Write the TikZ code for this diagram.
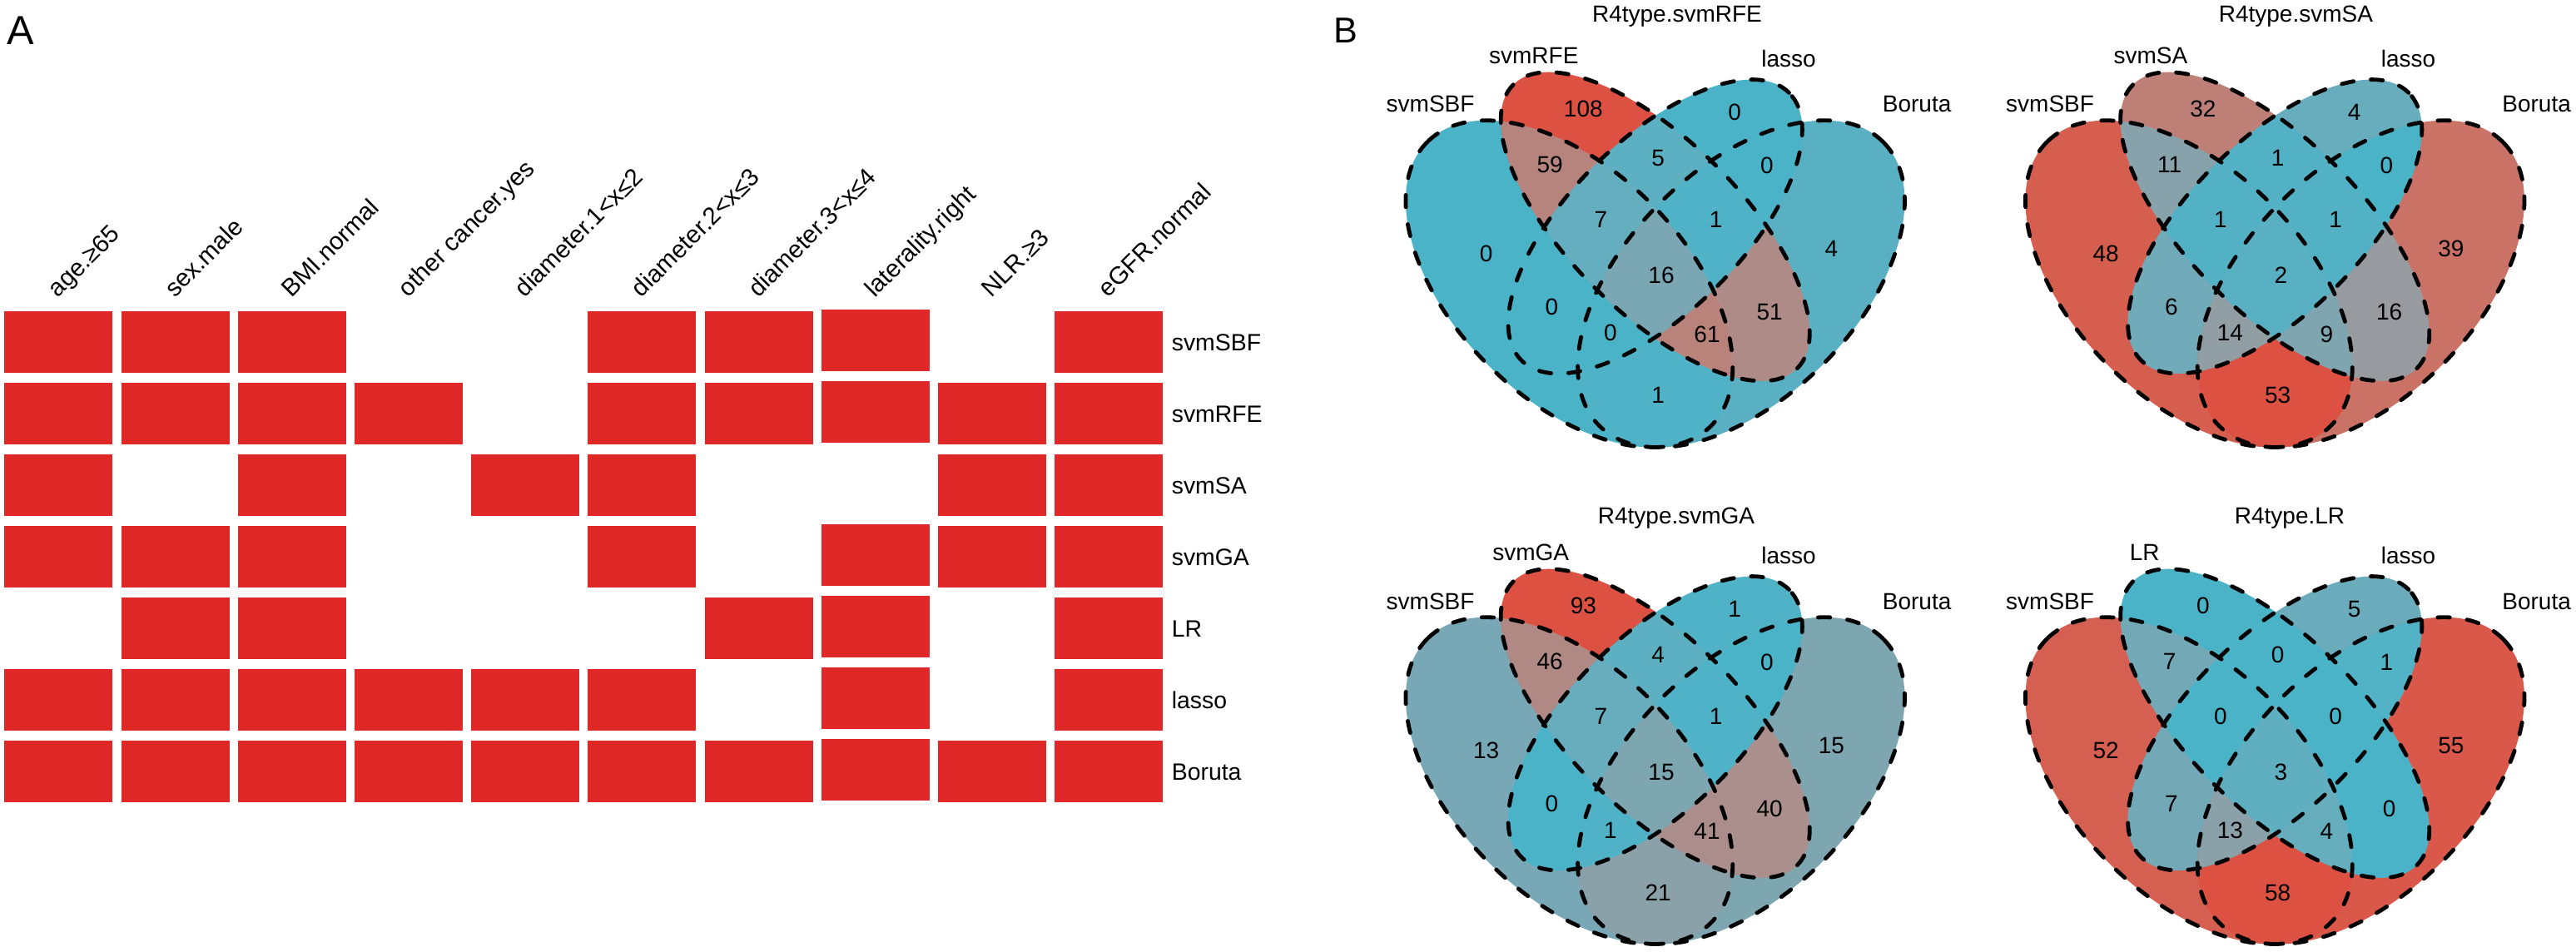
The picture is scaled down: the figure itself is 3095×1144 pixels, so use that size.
\documentclass[tikz,border=0pt]{standalone}
\usepackage{fontspec}
\setmainfont{Liberation Sans}
\definecolor{cellred}{RGB}{224,40,40}
% colour of a Venn region: Lab interpolation between teal (t=0) and red (t=1)
\newcommand\labmix[2]{%
  \pgfmathsetmacro\qL{67.95-14.45*(#2)}%
  \pgfmathsetmacro\qA{-23.6+77.0*(#2)}%
  \pgfmathsetmacro\qB{-19.6+57.3*(#2)}%
  \pgfmathsetmacro\qfy{(\qL+16)/116}%
  \pgfmathsetmacro\qfx{\qfy+(\qA)/500}%
  \pgfmathsetmacro\qfz{\qfy-(\qB)/200}%
  \pgfmathsetmacro\qX{0.95047*\qfx*\qfx*\qfx}%
  \pgfmathsetmacro\qY{\qfy*\qfy*\qfy}%
  \pgfmathsetmacro\qZ{1.08883*\qfz*\qfz*\qfz}%
  \pgfmathsetmacro\qr{max(0.0001,3.2406*\qX-1.5372*\qY-0.4986*\qZ)}%
  \pgfmathsetmacro\qg{max(0.0001,-0.9689*\qX+1.8758*\qY+0.0415*\qZ)}%
  \pgfmathsetmacro\qb{max(0.0001,0.0557*\qX-0.2040*\qY+1.0570*\qZ)}%
  \pgfmathsetmacro\qsr{min(1,max(0,1.055*exp(ln(\qr)/2.4)-0.055))}%
  \pgfmathsetmacro\qsg{min(1,max(0,1.055*exp(ln(\qg)/2.4)-0.055))}%
  \pgfmathsetmacro\qsb{min(1,max(0,1.055*exp(ln(\qb)/2.4)-0.055))}%
  \definecolor{#1}{rgb}{\qsr,\qsg,\qsb}%
}
% ellipses of the four-set Venn diagram (units of the Venn scope)
\def\cA{\clip[rotate around={135:(0.35,0.47)}] (0.35,0.47) ellipse (60.2875pt and 34.45pt);}
\def\cB{\clip[rotate around={135:(0.5,0.57)}] (0.5,0.57) ellipse (60.2875pt and 25.8375pt);}
\def\cC{\clip[rotate around={45:(0.5,0.57)}] (0.5,0.57) ellipse (56.8425pt and 25.8375pt);}
\def\cD{\clip[rotate around={45:(0.65,0.47)}] (0.65,0.47) ellipse (60.2875pt and 34.45pt);}
\newcommand\vreg[3]{\labmix{regc}{(#2)/(#3)}\begin{scope}#1\fill[regc] (-0.5,-0.5) rectangle (1.5,1.5);\end{scope}}
\newcommand\setvals[9]{\def\nA{#1}\def\nB{#2}\def\nC{#3}\def\nD{#4}\def\nAB{#5}\def\nAC{#6}\def\nAD{#7}\def\nBC{#8}\def\nBD{#9}}
\newcommand\setvalsb[6]{\def\nCD{#1}\def\nABC{#2}\def\nABD{#3}\def\nACD{#4}\def\nBCD{#5}\def\nABCD{#6}}
% #1 id, #2 dx, #3 dy, #4 max, #5 second set name, #6 x of second set label
\newcommand\drawvenn[6]{%
  \begin{scope}[shift={(#2,#3)}]
    \begin{scope}[shift={(1644.2,665)}, x=172.25pt, y=172.25pt]
      \vreg{\cA}{\nA}{#4}\vreg{\cB}{\nB}{#4}\vreg{\cC}{\nC}{#4}\vreg{\cD}{\nD}{#4}
      \vreg{\cA\cB}{\nAB}{#4}\vreg{\cA\cC}{\nAC}{#4}\vreg{\cA\cD}{\nAD}{#4}
      \vreg{\cB\cC}{\nBC}{#4}\vreg{\cB\cD}{\nBD}{#4}\vreg{\cC\cD}{\nCD}{#4}
      \vreg{\cA\cB\cC}{\nABC}{#4}\vreg{\cA\cB\cD}{\nABD}{#4}
      \vreg{\cA\cC\cD}{\nACD}{#4}\vreg{\cB\cC\cD}{\nBCD}{#4}
      \vreg{\cA\cB\cC\cD}{\nABCD}{#4}
      \draw[vline, rotate around={135:(0.35,0.47)}] (0.35,0.47) ellipse (60.2875pt and 34.45pt);
      \draw[vline, rotate around={135:(0.5,0.57)}] (0.5,0.57) ellipse (60.2875pt and 25.8375pt);
      \draw[vline, rotate around={45:(0.5,0.57)}] (0.5,0.57) ellipse (56.8425pt and 25.8375pt);
      \draw[vline, rotate around={45:(0.65,0.47)}] (0.65,0.47) ellipse (60.2875pt and 34.45pt);
    \end{scope}
    \node[vtxt] (#1-A) at (1785.6,304.3) {\nA};
    \node[vtxt] (#1-B) at (1902.3,130.4) {\nB};
    \node[vtxt] (#1-C) at (2084.1,135) {\nC};
    \node[vtxt] (#1-D) at (2200.3,298.2) {\nD};
    \node[vtxt] (#1-AB) at (1862.1,197.1) {\nAB};
    \node[vtxt] (#1-BC) at (1992.2,189.3) {\nBC};
    \node[vtxt] (#1-CD) at (2122.8,198.2) {\nCD};
    \node[vtxt] (#1-ABC) at (1923.3,263.2) {\nABC};
    \node[vtxt] (#1-BCD) at (2061.6,263.2) {\nBCD};
    \node[vtxt] (#1-ABCD) at (1996,330.4) {\nABCD};
    \node[vtxt] (#1-AC) at (1864.5,368.9) {\nAC};
    \node[vtxt] (#1-BD) at (2126.1,374.3) {\nBD};
    \node[vtxt] (#1-ACD) at (1934.8,400) {\nACD};
    \node[vtxt] (#1-ABD) at (2051,401.8) {\nABD};
    \node[vtxt] (#1-AD) at (1992.2,475) {\nAD};
    \node[vtxt] (#1-s1) at (1718.6,125) {svmSBF};
    \node[vtxt] (#1-s2) at (#6,66.1) {#5};
    \node[vtxt] (#1-s3) at (2149.1,70.4) {lasso};
    \node[vtxt] (#1-s4) at (2303.1,125) {Boruta};
  \end{scope}}
\tikzset{
  vline/.style={black, line width=1.2pt, dash pattern=on 3.6pt off 5.2pt, line cap=round},
  vtxt/.style={inner sep=0pt, font=\fontsize{7}{8}\selectfont, text height=5pt, text depth=0pt, anchor=center},
  rowlab/.style={inner sep=0pt, font=\fontsize{7.1}{8}\selectfont, text height=5.1pt, text depth=0pt, anchor=west},
  collab/.style={inner sep=0pt, font=\fontsize{7.4}{8}\selectfont, anchor=base west, rotate=45},
  panlab/.style={inner sep=0pt, anchor=base west}
}
\begin{document}
\begin{tikzpicture}[x=0.25pt, y=-0.25pt]
\useasboundingbox (0,0) rectangle (3095,1144);
% ---------------- panel A ----------------
\node[panlab, font=\fontsize{12.2}{14}\selectfont] (labA) at (7.7,53.3) {A};
\foreach \r/\pat in {0/{1,1,1,0,0,1,1,1,0,1},1/{1,1,1,1,0,1,1,1,1,1},2/{1,0,1,0,1,1,0,0,1,1},3/{1,1,1,0,0,1,0,1,1,1},4/{0,1,1,0,0,0,1,1,0,1},5/{1,1,1,1,1,1,0,1,0,1},6/{1,1,1,1,1,1,1,1,1,1}}{
  \foreach \v [count=\c from 0] in \pat {
    \ifnum\v=1
      \ifnum\c=7
        \fill[cellred] (5.3+140.2*\c,372+86*\r) rectangle (135.3+140.2*\c,446+86*\r);
      \else
        \fill[cellred] (5.3+140.2*\c,374+86*\r) rectangle (135.3+140.2*\c,448+86*\r);
      \fi
    \fi
  }
}
\foreach \r/\rname in {0/svmSBF,1/svmRFE,2/svmSA,3/svmGA,4/LR,5/lasso,6/Boruta}{
  \node[rowlab] (row\r) at (1407,411+86*\r) {\rname};
}
\foreach \c/\lab in {0/age.≥65,1/sex.male,2/BMI.normal,3/other cancer.yes,4/diameter.1<x≤2,5/diameter.2<x≤3,6/diameter.3<x≤4,7/laterality.right,8/NLR.≥3,9/eGFR.normal}{
  \node[collab] (col\c) at (69.3+140.2*\c,359) {\lab};
}
% ---------------- panel B ----------------
\node[panlab, font=\fontsize{10.8}{13}\selectfont] (labB) at (1601.6,51.8) {B};
\setvals{0}{108}{0}{4}{59}{0}{1}{5}{51}\setvalsb{0}{7}{61}{0}{1}{16}
\drawvenn{v1}{0}{0}{108}{svmRFE}{1842.8}
\node[vtxt] (t1) at (2015,17) {R4type.svmRFE};
\setvals{48}{32}{4}{39}{11}{6}{53}{1}{16}\setvalsb{0}{1}{9}{14}{1}{2}
\drawvenn{v2}{744.5}{0}{53}{svmSA}{1839.4}
\node[vtxt] (t2) at (2758.4,17) {R4type.svmSA};
\setvals{13}{93}{1}{15}{46}{0}{21}{4}{40}\setvalsb{0}{7}{41}{1}{1}{15}
\drawvenn{v3}{0}{597}{93}{svmGA}{1839.2}
\node[vtxt] (t3) at (2014,619) {R4type.svmGA};
\setvals{52}{0}{5}{55}{7}{7}{58}{0}{0}\setvalsb{1}{0}{4}{13}{0}{3}
\drawvenn{v4}{744.5}{597}{58}{LR}{1832.2}
\node[vtxt] (t4) at (2751,619) {R4type.LR};
\end{tikzpicture}
\end{document}
